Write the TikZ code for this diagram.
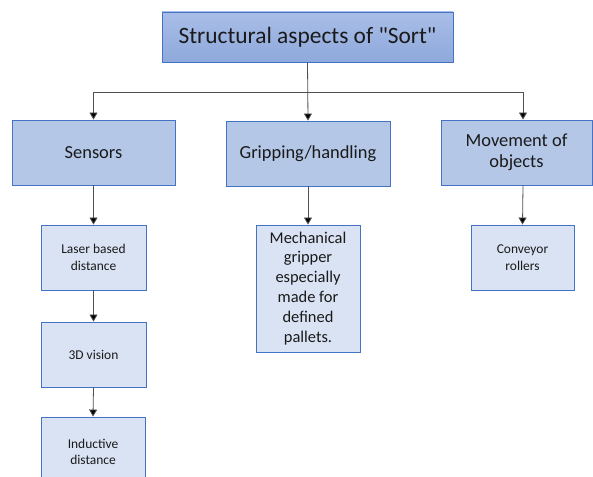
\documentclass[tikz,border=0pt]{standalone}
\usepackage{fontspec}
\setmainfont{Carlito}
\usetikzlibrary{arrows.meta}
\definecolor{topA}{HTML}{A9BDE8}
\definecolor{topB}{HTML}{8EA9DB}
\definecolor{midfill}{HTML}{B4C7E7}
\definecolor{lowfill}{HTML}{DAE3F3}
\definecolor{edge}{HTML}{4472C4}
\definecolor{txt}{HTML}{1A1A1A}
\definecolor{conn}{HTML}{505050}
\begin{document}
\begin{tikzpicture}[x=1bp,y=-1bp,
  box/.style={draw=edge,line width=0.9bp,text=txt,align=center,inner sep=0pt},
  topbox/.style={box,top color=topA,bottom color=topB,minimum width=291bp,minimum height=50bp,font=\fontsize{23.5}{28}\selectfont},
  midbox/.style={box,fill=midfill,minimum height=65bp,font=\fontsize{18.5}{21}\selectfont},
  lowbox/.style={box,fill=lowfill,font=\fontsize{13.5}{16.5}\selectfont},
  arr/.style={draw=conn,line width=0.8bp,-{Triangle[length=7bp,width=8bp,fill=black]}}
]
\useasboundingbox (0,0) rectangle (593,477);
\clip (0,0) rectangle (593,477);
\node[topbox] (top) at (307.5,37) {Structural aspects of \textquotedbl Sort\textquotedbl};
\node[midbox,minimum width=163bp] (sens) at (93.5,152.5) {Sensors};
\node[midbox,minimum width=164bp] (grip) at (308,153.5) {Gripping/handling};
\node[midbox,minimum width=151bp] (move) at (516.5,152.5) {Movement of\\objects};
\node[lowbox,minimum width=105bp,minimum height=65bp] (laser) at (93.5,257.5) {Laser based\\distance};
\node[lowbox,minimum width=105bp,minimum height=65bp] (vision) at (93.5,354.5) {3D vision};
\node[lowbox,minimum width=104bp,minimum height=70bp] (induct) at (93,452) {Inductive\\distance};
\node[lowbox,minimum width=104bp,minimum height=127bp,font=\fontsize{16.5}{20}\selectfont] (mech) at (308,288.5) {Mechanical\\gripper\\especially\\made for\\defined\\pallets.};
\node[lowbox,minimum width=103bp,minimum height=65bp] (conv) at (522.5,257.5) {Conveyor\\rollers};
\coordinate (hl) at (308,92);
\draw[arr] (top.south) -- (grip.north);
\draw[arr] (hl) -| (sens.north);
\draw[arr] (hl) -| ([xshift=6.5bp]move.north);
\draw[arr] (sens.south) -- (laser.north);
\draw[arr] (laser.south) -- (vision.north);
\draw[arr] (vision.south) -- (induct.north);
\draw[arr] (grip.south) -- (mech.north);
\draw[arr] ([xshift=6.5bp]move.south) -- (conv.north);
\end{tikzpicture}
\end{document}
